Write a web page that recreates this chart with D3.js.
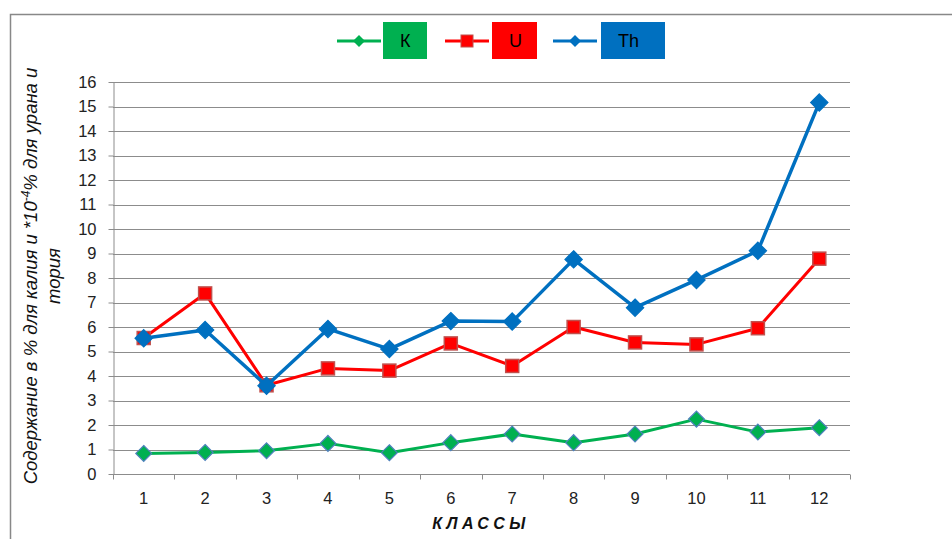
<!DOCTYPE html>
<html>
<head>
<meta charset="utf-8">
<script src="https://cdn.jsdelivr.net/npm/d3@7"></script>
<style>
  html, body { margin: 0; padding: 0; background: #fff; }
  svg { display: block; font-family: "Liberation Sans", "DejaVu Sans", sans-serif; }
</style>
</head>
<body>
<svg id="chart" width="952" height="539"></svg>
<script>
// Classes on the horizontal axis
const classes = ["1", "2", "3", "4", "5", "6", "7", "8", "9", "10", "11", "12"];
// Potassium, %
const kValues  = [0.84, 0.88, 0.95, 1.25, 0.87, 1.28, 1.63, 1.28, 1.63, 2.24, 1.71, 1.89];
// Uranium, *10^-4 %
const uValues  = [5.55, 7.37, 3.62, 4.31, 4.22, 5.33, 4.41, 6.00, 5.37, 5.29, 5.95, 8.79];
// Thorium, *10^-4 %
const thValues = [5.54, 5.88, 3.60, 5.92, 5.10, 6.24, 6.22, 8.76, 6.79, 7.92, 9.11, 15.16];
const yTicks = d3.range(0, 17, 1);

const svg = d3.select("#chart");
const W = 952, H = 539;

// outer frame
svg.append("rect")
  .attr("x", 10.5).attr("y", 14.5)
  .attr("width", W + 10).attr("height", H + 10)
  .attr("fill", "#fff").attr("stroke", "#888").attr("stroke-width", 1.5);

const plot = { left: 113, right: 850, top: 82, bottom: 474 };

const x = d3.scaleBand().domain(classes).range([plot.left, plot.right]).padding(0);
const y = d3.scaleLinear().domain([0, 16]).range([plot.bottom, plot.top]);

// horizontal grid lines
svg.append("g").selectAll("line").data(yTicks.filter(d => d > 0)).join("line")
  .attr("x1", plot.left).attr("x2", plot.right)
  .attr("y1", d => Math.round(y(d)) + 0.5).attr("y2", d => Math.round(y(d)) + 0.5)
  .attr("stroke", "#8c8c8c").attr("stroke-width", 1);

// y axis
const yAxis = svg.append("g")
  .attr("transform", `translate(${plot.left + 0.5},0)`)
  .call(d3.axisLeft(y).tickValues(yTicks).tickSize(5).tickPadding(12).tickSizeOuter(0));
yAxis.select(".domain").attr("stroke", "#8c8c8c");
yAxis.selectAll(".tick line").attr("stroke", "#8c8c8c");
yAxis.selectAll(".tick text").attr("font-size", 16.5).attr("fill", "#222");

// x axis: ticks sit between the classes
const xAxisG = svg.append("g").attr("transform", `translate(0,${plot.bottom + 0.5})`);
xAxisG.append("line")
  .attr("x1", plot.left).attr("x2", plot.right)
  .attr("stroke", "#8c8c8c");
const bounds = classes.map(c => x(c)).concat([plot.right]);
xAxisG.selectAll("line.tk").data(bounds).join("line").attr("class", "tk")
  .attr("x1", d => Math.round(d) + 0.5).attr("x2", d => Math.round(d) + 0.5)
  .attr("y1", 0).attr("y2", 5).attr("stroke", "#8c8c8c");
xAxisG.selectAll("text").data(classes).join("text")
  .attr("x", d => x(d) + x.bandwidth() / 2).attr("y", 24)
  .attr("text-anchor", "middle").attr("dy", "0.35em")
  .attr("font-size", 16.5).attr("fill", "#222").text(d => d);

// axis titles
svg.append("text")
  .attr("x", 481).attr("y", 529)
  .attr("text-anchor", "middle")
  .attr("font-size", 16).attr("font-weight", "bold").attr("font-style", "italic")
  .attr("letter-spacing", 4.5).attr("fill", "#111")
  .text("КЛАССЫ");

const yTitle = svg.append("text")
  .attr("transform", "translate(37,276) rotate(-90)")
  .attr("text-anchor", "middle")
  .attr("font-size", 18.5).attr("font-style", "italic").attr("fill", "#111");
const l1 = yTitle.append("tspan").attr("x", 0).attr("y", 0);
l1.append("tspan").text("Содержание в % для калия и *10");
l1.append("tspan").attr("font-size", 12).attr("dy", -7).text("-4");
l1.append("tspan").attr("dy", 7).text("% для урана и");
yTitle.append("tspan").attr("x", 0).attr("y", 23).text("тория");

// series
const series = [
  { name: "К",  values: kValues,  color: "#00b050", marker: "diamond", fill: "#00b050", stroke: "#4f81bd", size: 11, width: 3 },
  { name: "U",  values: uValues,  color: "#ff0000", marker: "square",  fill: "#ff0000", stroke: "#c0504d", size: 13, width: 3 },
  { name: "Th", values: thValues, color: "#0070c0", marker: "diamond", fill: "#0070c0", stroke: "#0070c0", size: 12, width: 3.5 }
];

const cx = (d, i) => x(classes[i]) + x.bandwidth() / 2;
const line = d3.line().x(cx).y(d => y(d));

function drawMarker(g, type, px, py, s, fill, stroke) {
  if (type === "diamond") {
    const h = s * 0.72;
    g.append("path")
      .attr("d", `M${px},${py - h} L${px + h},${py} L${px},${py + h} L${px - h},${py} Z`)
      .attr("fill", fill).attr("stroke", stroke).attr("stroke-width", 1.2);
  } else {
    g.append("rect")
      .attr("x", px - s / 2).attr("y", py - s / 2).attr("width", s).attr("height", s)
      .attr("fill", fill).attr("stroke", stroke).attr("stroke-width", 1.5);
  }
}

// draw order: K, U, Th (Th on top)
series.forEach(s => {
  const g = svg.append("g");
  g.append("path").datum(s.values)
    .attr("d", line).attr("fill", "none")
    .attr("stroke", s.color).attr("stroke-width", s.width).attr("stroke-linejoin", "round");
  s.values.forEach((v, i) => drawMarker(g, s.marker, cx(v, i), y(v), s.size, s.fill, s.stroke));
});

// legend
const legendItems = [
  { s: series[0], lx: 337, bx: 383, bw: 44 },
  { s: series[1], lx: 445, bx: 492, bw: 45 },
  { s: series[2], lx: 553, bx: 601, bw: 64 }
];
legendItems.forEach(it => {
  const g = svg.append("g");
  g.append("line").attr("x1", it.lx).attr("x2", it.lx + 44).attr("y1", 41).attr("y2", 41)
    .attr("stroke", it.s.color).attr("stroke-width", 3);
  if (it.s.marker === "square") {
    g.append("rect").attr("x", it.lx + 22 - 6).attr("y", 35).attr("width", 12).attr("height", 12)
      .attr("fill", it.s.fill).attr("stroke", it.s.stroke).attr("stroke-width", 1);
  } else {
    const px = it.lx + 22, py = 41, h = 6;
    g.append("path").attr("d", `M${px},${py - h} L${px + h},${py} L${px},${py + h} L${px - h},${py} Z`)
      .attr("fill", it.s.color);
  }
  g.append("rect").attr("x", it.bx).attr("y", 22).attr("width", it.bw).attr("height", 37)
    .attr("fill", it.s.color);
  g.append("text").attr("x", it.bx + 17).attr("y", 41).attr("dy", "0.35em")
    .attr("font-size", 18).attr("fill", "#000").text(it.s.name);
});
</script>
</body>
</html>
